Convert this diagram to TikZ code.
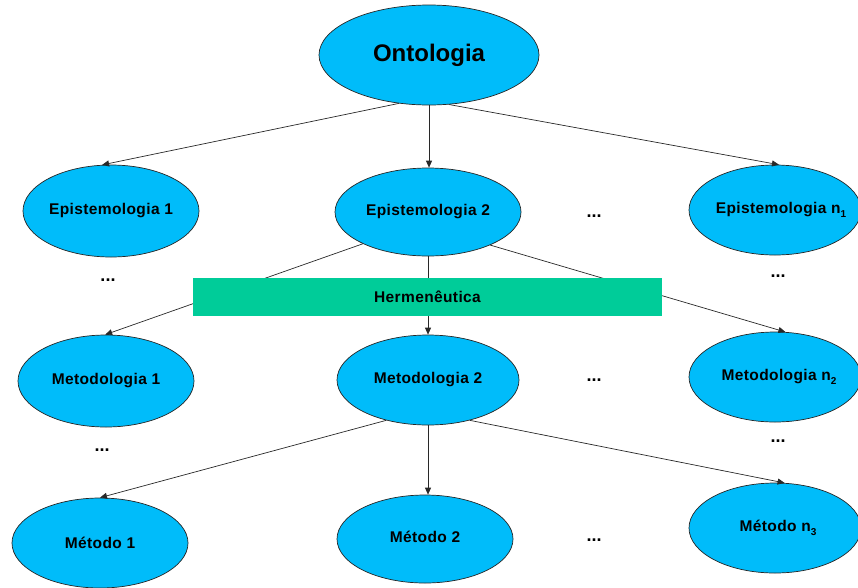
\documentclass[tikz,border=0pt]{standalone}
\usepackage{fontspec}
\setmainfont{Liberation Sans}
\newfontfamily\spacedfont[LetterSpace=2.5]{Liberation Sans}
\usetikzlibrary{shapes.geometric,arrows.meta}
\definecolor{ellblue}{RGB}{0,188,250}
\definecolor{hgreen}{RGB}{0,204,153}
\definecolor{edgeline}{RGB}{40,40,40}
\newcommand{\sbs}[1]{{\fontsize{10}{10}\selectfont\raisebox{-3.5pt}{#1}}}
\tikzset{
  ell/.style={ellipse, draw=black!85, line width=0.7pt, fill=ellblue, inner xsep=-40pt, inner ysep=-10pt,
    font=\spacedfont\fontsize{15.5}{15.5}\selectfont\bfseries},
  conn/.style={draw=edgeline, line width=0.7pt, -{Triangle[length=7pt,width=6pt]}},
  dots/.style={font=\fontsize{18}{18}\selectfont\bfseries, inner sep=0pt},
  bar/.style={fill=hgreen, draw=none, minimum width=469pt, minimum height=38pt, inner sep=0pt,
    font=\spacedfont\fontsize{15.5}{15.5}\selectfont\bfseries}
}
\begin{document}
\begin{tikzpicture}[x=1pt,y=-1pt]
\useasboundingbox (0,0) rectangle (858,587);
% nodes
\node[ell, minimum width=220pt, minimum height=100pt, font=\fontsize{24}{24}\selectfont\bfseries] (onto) at (429,55) {Ontologia};
\node[ell, minimum width=176pt, minimum height=92pt] (ep1) at (111,211) {Epistemologia 1};
\node[ell, minimum width=186pt, minimum height=88pt] (ep2) at (428,212) {Epistemologia 2};
\node[ell, minimum width=172pt, minimum height=90pt] (epn) at (775,210) {\hspace*{12pt}Epistemologia n\sbs{1}};
\node[ell, minimum width=176pt, minimum height=92pt] (me1) at (106,381) {Metodologia 1};
\node[ell, minimum width=182pt, minimum height=90pt] (me2) at (428,380) {Metodologia 2};
\node[ell, minimum width=172pt, minimum height=90pt] (men) at (775,377) {\hspace*{8pt}Metodologia n\sbs{2}};
\node[ell, minimum width=176pt, minimum height=90pt] (mt1) at (100,543) {Método 1};
\node[ell, minimum width=176pt, minimum height=88pt] (mt2) at (425,539) {\raisebox{4pt}{Método 2}};
\node[ell, minimum width=172pt, minimum height=90pt] (mtn) at (775,528) {\hspace*{6pt}\raisebox{3pt}{Método n\sbs{3}}};
% connectors
\draw[conn] (onto.238) -- (ep1.101);
\draw[conn] (onto.south) -- (onto.south |- ep2.north);
\draw[conn] (onto.292) -- (epn.85);
\draw[conn] (ep2.206) -- (me1.91);
\draw[conn] (ep2.south) -- (ep2.south |- me2.north);
\draw[conn] (ep2.332) -- (men.77);
\draw[conn] (me2.224) -- (mt1.90);
\draw[conn] (me2.south) -- (me2.south |- mt2.north);
\draw[conn] (me2.316) -- (mtn.78);
% bar on top of connectors
\node[bar] (herm) at (427.5,297) {Hermenêutica};
% dots
\node[dots] (d1) at (108,280) {...};
\node[dots] (d2) at (594,216) {...};
\node[dots] (d3) at (778,276) {...};
\node[dots] (d4) at (102,450) {...};
\node[dots] (d5) at (594,380) {...};
\node[dots] (d6) at (778,441) {...};
\node[dots] (d7) at (594,540) {...};
\end{tikzpicture}
\end{document}
